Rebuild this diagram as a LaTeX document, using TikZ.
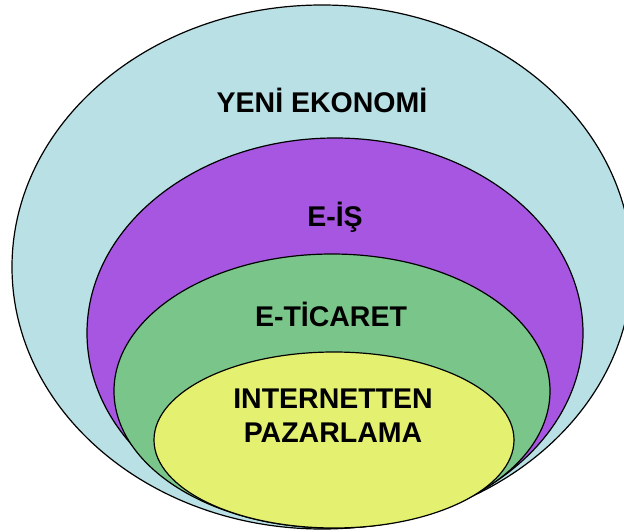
\documentclass[tikz,border=0pt]{standalone}
\usepackage{fontspec}
\setmainfont{Liberation Sans}
\usepackage{xcolor}
\definecolor{ekoblue}{RGB}{185,224,228}
\definecolor{ispurple}{RGB}{166,86,224}
\definecolor{ticgreen}{RGB}{122,198,138}
\definecolor{pazyellow}{RGB}{228,240,112}

\begin{document}
\begin{tikzpicture}[
    x=1pt, y=-1pt,
    ring/.style={draw=black, line width=1.2pt},
    label/.style={font=\fontsize{28.5}{34}\selectfont\bfseries, align=center, inner sep=0pt},
]
    \useasboundingbox (0,0) rectangle (624,532);
    \clip (0,0) rectangle (624,532);

    \filldraw[ring, fill=ekoblue] (322,267) ellipse [x radius=310, y radius=262];
    \filldraw[ring, fill=ispurple] (335,333) ellipse [x radius=248, y radius=195];
    \filldraw[ring, fill=ticgreen] (332,391) ellipse [x radius=218, y radius=137];
    \filldraw[ring, fill=pazyellow] (334,440) ellipse [x radius=180, y radius=88];

    \node[label, anchor=base] (yeni) at (322,113) {YENİ EKONOMİ};
    \node[label, anchor=base] (eis) at (335,226) {E-İŞ};
    \node[label, anchor=base] (eticaret) at (331,326) {E-TİCARET};
    \node[label] (pazarlama) at (333,416) {INTERNETTEN\\PAZARLAMA};
\end{tikzpicture}
\end{document}
